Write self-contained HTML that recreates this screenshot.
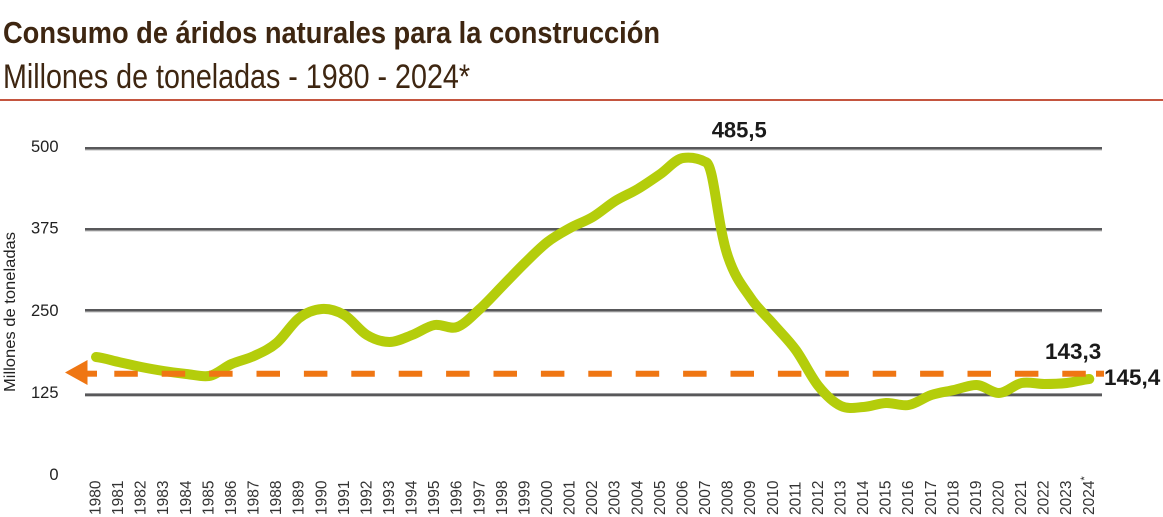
<!DOCTYPE html>
<html>
<head>
<meta charset="utf-8">
<style>
  html,body{margin:0;padding:0;background:#fff;}
  svg{display:block;}
  text{font-family:"Liberation Sans", Arial, sans-serif;}
</style>
</head>
<body>
<svg width="1163" height="517" viewBox="0 0 1163 517" xmlns="http://www.w3.org/2000/svg">
  <rect x="0" y="0" width="1163" height="517" fill="#ffffff"/>

  <!-- Titles -->
  <text x="3" y="43" font-size="31" font-weight="bold" fill="#3e2611" textLength="657" lengthAdjust="spacingAndGlyphs">Consumo de áridos naturales para la construcción</text>
  <text x="3" y="88" font-size="34" fill="#3e2611" textLength="467" lengthAdjust="spacingAndGlyphs">Millones de toneladas - 1980 - 2024*</text>
  <rect x="0" y="99" width="1163" height="2" fill="#c4553f"/>

  <!-- Gridlines -->
  <g>
    <rect x="85" y="147" width="1017" height="2.6" fill="#58585a"/>
    <rect x="85" y="149.6" width="1017" height="1" fill="#c8c8c8"/>
    <rect x="85" y="228" width="1017" height="2.6" fill="#58585a"/>
    <rect x="85" y="230.6" width="1017" height="1" fill="#c8c8c8"/>
    <rect x="85" y="309" width="1017" height="2.6" fill="#58585a"/>
    <rect x="85" y="311.6" width="1017" height="1" fill="#c8c8c8"/>
    <rect x="85" y="393.4" width="1017" height="2.6" fill="#58585a"/>
    <rect x="85" y="396" width="1017" height="1" fill="#c8c8c8"/>
  </g>

  <!-- Y labels -->
  <g font-size="16.5" fill="#222" text-anchor="end">
    <text x="58.5" y="152">500</text>
    <text x="58.5" y="233.3">375</text>
    <text x="58.5" y="316">250</text>
    <text x="58.5" y="398">125</text>
    <text x="58.5" y="480">0</text>
  </g>
  <text transform="translate(15,312) rotate(-90)" text-anchor="middle" font-size="15.5" fill="#222" textLength="160" lengthAdjust="spacingAndGlyphs">Millones de toneladas</text>

  <!-- Data curve -->
  <path fill="none" stroke="#b4cd0b" stroke-width="10" stroke-linecap="round" stroke-linejoin="round"
    d="M96,357
    C103.5,357.8 111.1,360.3 118.6,362
    C126.1,363.7 133.7,365.5 141.2,367
    C148.7,368.5 156.2,369.8 163.7,371
    C171.2,372.2 178.8,373.2 186.3,374
    C193.8,374.8 201.4,377 208.9,376
    C216.4,375 224,367.3 231.5,364
    C239,360.7 246.5,359.5 254,356
    C261.5,352.5 269.1,349.3 276.6,343
    C284.1,336.7 291.7,323.7 299.2,318
    C306.7,312.3 314.3,309.5 321.8,309
    C329.3,308.5 336.8,310.7 344.3,315
    C351.8,319.3 359.4,330.5 366.9,335
    C374.4,339.5 382,342 389.5,342
    C397,342 404.6,337.8 412.1,335
    C419.6,332.2 427.1,326.3 434.6,325
    C442.1,323.7 449.7,329.7 457.2,327
    C464.7,324.3 472.3,315.8 479.8,309
    C487.3,302.2 494.9,293.7 502.4,286
    C509.9,278.3 517.4,270.3 524.9,263
    C532.4,255.7 540,247.8 547.5,242
    C555,236.2 562.6,232.2 570.1,228
    C577.6,223.8 585.2,221.5 592.7,217
    C600.2,212.5 607.7,205.7 615.2,201
    C622.7,196.3 630.3,193.5 637.8,189
    C645.3,184.5 652.9,179.2 660.4,174
    C667.9,168.8 675.5,159 683,158
    C690.5,157 698,158 705.5,162
    C714,163 717,225 728.1,257
    C735.6,279 743.2,286.8 750.7,298
    C758.2,309.2 765.8,315.3 773.3,324
    C780.8,332.7 788.3,339.7 795.8,350
    C803.3,360.3 810.9,376.7 818.4,386
    C825.9,395.3 833.5,402.5 841,406
    C848.5,409.5 856.1,407.5 863.6,407
    C871.1,406.5 878.6,403.3 886.1,403
    C893.6,402.7 901.2,406.3 908.7,405
    C916.2,403.7 923.8,397.5 931.3,395
    C938.8,392.5 946.4,391.7 953.9,390
    C961.4,388.3 968.9,385 976.4,385
    C983.9,385 991.5,393 999,393
    C1006.5,393 1014.1,384.5 1021.6,383
    C1029.1,381.5 1036.7,384 1044.2,384
    C1051.7,384 1059.2,383.8 1066.7,383
    C1074.2,382.2 1081.8,379.7 1089.3,379"/>

  <!-- Dashed reference line -->
  <g fill="#ef7613">
    <polygon points="65,372.5 87.5,360 87.5,385"/>
    <rect x="85" y="370.7" width="12" height="6"/>
    <rect x="1096" y="370.7" width="8" height="6"/>
  </g>
  <line x1="114.3" y1="373.7" x2="1085.8" y2="373.7" stroke="#ef7613" stroke-width="6" stroke-dasharray="23.5 23.9"/>

  <!-- Value labels -->
  <g font-weight="bold" fill="#1a1a1a">
    <text x="711.7" y="137.7" font-size="22">485,5</text>
    <text x="1045" y="359" font-size="22.5">143,3</text>
    <text x="1104" y="385" font-size="22.5">145,4</text>
  </g>

  <!-- X labels -->
  <g font-size="15.5" fill="#333">
    <text transform="translate(100.5,515) rotate(-90)">1980</text>
    <text transform="translate(123.1,515) rotate(-90)">1981</text>
    <text transform="translate(145.7,515) rotate(-90)">1982</text>
    <text transform="translate(168.2,515) rotate(-90)">1983</text>
    <text transform="translate(190.8,515) rotate(-90)">1984</text>
    <text transform="translate(213.4,515) rotate(-90)">1985</text>
    <text transform="translate(236,515) rotate(-90)">1986</text>
    <text transform="translate(258.5,515) rotate(-90)">1987</text>
    <text transform="translate(281.1,515) rotate(-90)">1988</text>
    <text transform="translate(303.7,515) rotate(-90)">1989</text>
    <text transform="translate(326.3,515) rotate(-90)">1990</text>
    <text transform="translate(348.8,515) rotate(-90)">1991</text>
    <text transform="translate(371.4,515) rotate(-90)">1992</text>
    <text transform="translate(394,515) rotate(-90)">1993</text>
    <text transform="translate(416.6,515) rotate(-90)">1994</text>
    <text transform="translate(439.1,515) rotate(-90)">1995</text>
    <text transform="translate(461.7,515) rotate(-90)">1996</text>
    <text transform="translate(484.3,515) rotate(-90)">1997</text>
    <text transform="translate(506.9,515) rotate(-90)">1998</text>
    <text transform="translate(529.4,515) rotate(-90)">1999</text>
    <text transform="translate(552,515) rotate(-90)">2000</text>
    <text transform="translate(574.6,515) rotate(-90)">2001</text>
    <text transform="translate(597.2,515) rotate(-90)">2002</text>
    <text transform="translate(619.7,515) rotate(-90)">2003</text>
    <text transform="translate(642.3,515) rotate(-90)">2004</text>
    <text transform="translate(664.9,515) rotate(-90)">2005</text>
    <text transform="translate(687.5,515) rotate(-90)">2006</text>
    <text transform="translate(710,515) rotate(-90)">2007</text>
    <text transform="translate(732.6,515) rotate(-90)">2008</text>
    <text transform="translate(755.2,515) rotate(-90)">2009</text>
    <text transform="translate(777.8,515) rotate(-90)">2010</text>
    <text transform="translate(800.3,515) rotate(-90)">2011</text>
    <text transform="translate(822.9,515) rotate(-90)">2012</text>
    <text transform="translate(845.5,515) rotate(-90)">2013</text>
    <text transform="translate(868.1,515) rotate(-90)">2014</text>
    <text transform="translate(890.6,515) rotate(-90)">2015</text>
    <text transform="translate(913.2,515) rotate(-90)">2016</text>
    <text transform="translate(935.8,515) rotate(-90)">2017</text>
    <text transform="translate(958.4,515) rotate(-90)">2018</text>
    <text transform="translate(980.9,515) rotate(-90)">2019</text>
    <text transform="translate(1003.5,515) rotate(-90)">2020</text>
    <text transform="translate(1026.1,515) rotate(-90)">2021</text>
    <text transform="translate(1048.7,515) rotate(-90)">2022</text>
    <text transform="translate(1071.2,515) rotate(-90)">2023</text>
    <text transform="translate(1093.8,515) rotate(-90)">2024<tspan font-size="11" dy="-6">*</tspan></text>
  </g>
</svg>
</body>
</html>
